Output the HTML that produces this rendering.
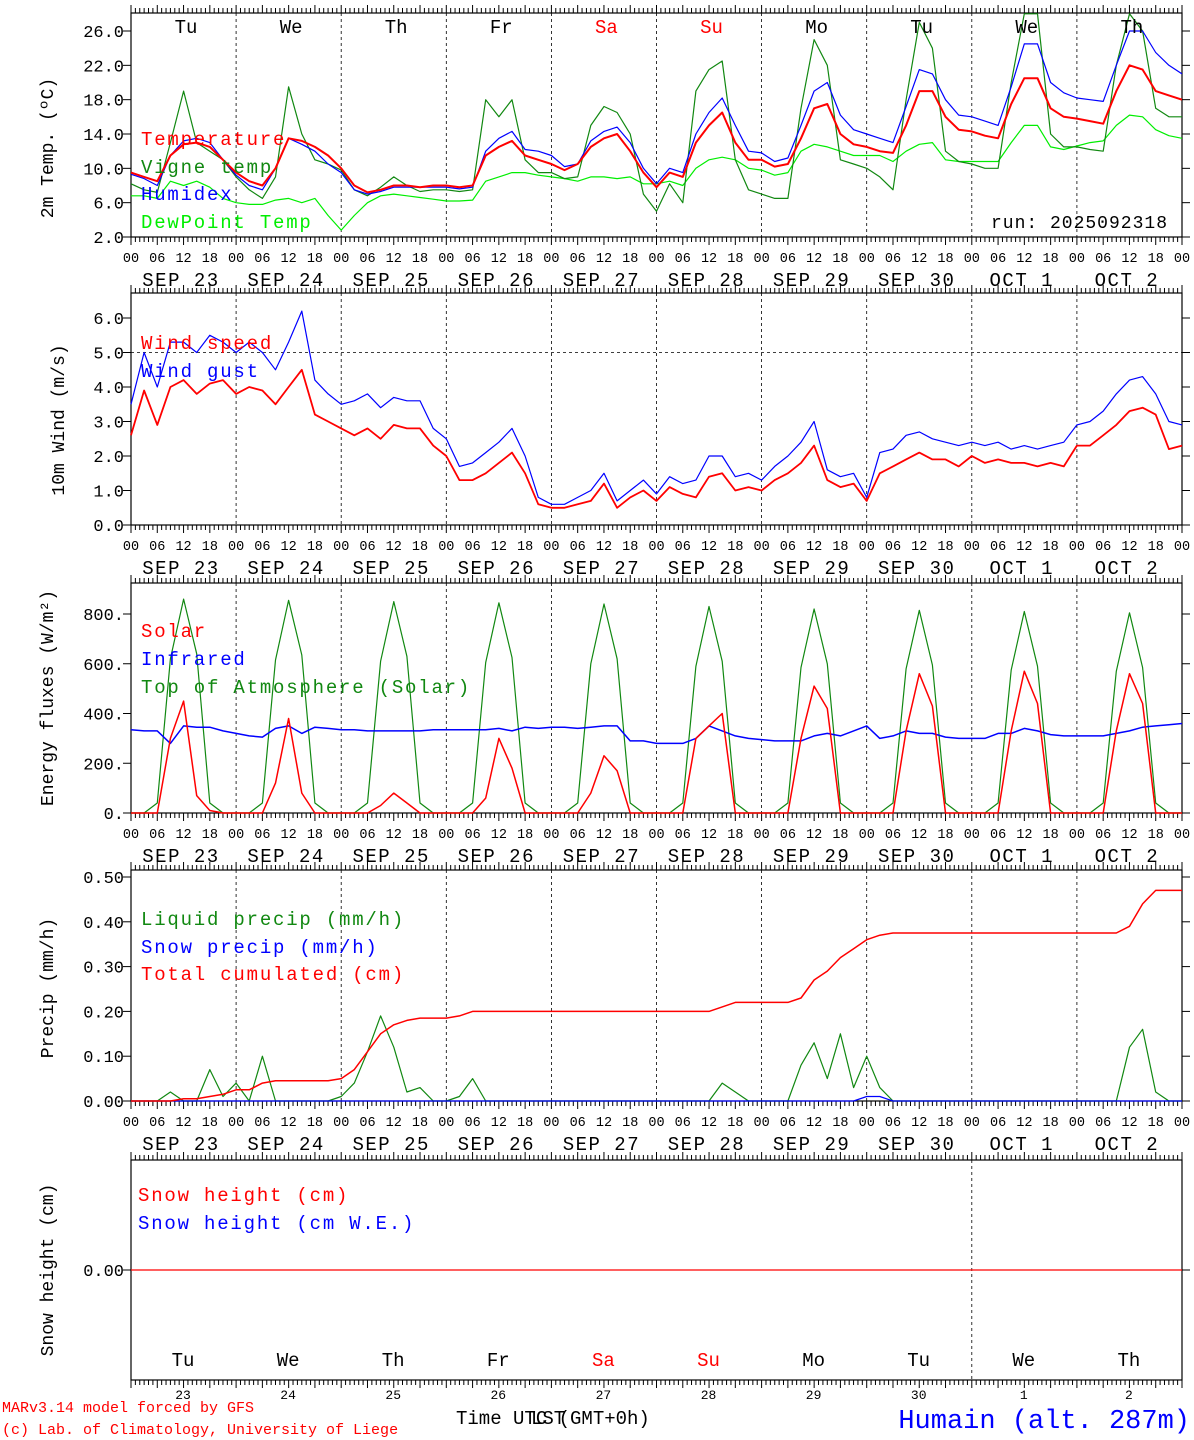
<!DOCTYPE html>
<html><head><meta charset="utf-8"><style>
body{margin:0;background:#fff}
svg{display:block}
text{font-family:"Liberation Mono","DejaVu Sans Mono",monospace}
</style></head><body>
<svg id="c" width="1194" height="1440" xmlns="http://www.w3.org/2000/svg"></svg>
<script>
const days=["Tu","We","Th","Fr","Sa","Su","Mo","Tu","We","Th"];
const dates=["SEP 23","SEP 24","SEP 25","SEP 26","SEP 27","SEP 28","SEP 29","SEP 30","OCT  1","OCT  2"];
const dayNums=["23","24","25","26","27","28","29","30","1","2"];
const hourTicks=["00","06","12","18"];
const temp=[9.5,9.0,8.5,11.5,12.8,13.0,12.5,11.0, 9.5,8.5,8.0,10,13.5,13.2,12.5,11.5, 10.0,8.0,7.2,7.5,8.0,8.0,7.8,8.0, 8.0,7.8,8.0,11.5,12.5,13.2,11.5,11.0, 10.5,9.8,10.5,12.5,13.5,14.0,12,9.5, 7.8,9.5,9.0,13,15,16.5,13,11.0, 11.0,10.2,10.5,13.5,17,17.5,14,12.8, 12.5,12.0,11.8,15,19,19,16,14.5, 14.3,13.8,13.5,17.5,20.5,20.5,17,16, 15.8,15.5,15.2,19,22,21.5,19,18.5,18.0];
const humidex=[9.3,8.8,8.0,11.5,13.2,13.5,13,11, 9.2,8.0,7.5,10,13.5,12.8,12,10.5, 9.5,7.5,7.0,7.3,7.8,7.8,7.8,7.8, 7.8,7.6,7.8,12,13.5,14.3,12.2,12, 11.5,10.2,10.5,13.2,14.3,14.8,13,10, 8.2,10,9.5,14,16.5,18.2,15,12, 11.8,10.8,11.2,15,19,20,16.2,14.5, 14,13.5,13,17.2,21.5,21,18,16.2, 16,15.5,15,19.5,24.5,24.5,20,18.8, 18.2,18,17.8,22,26,26,23.5,22,21];
const vigne=[8.2,7.5,7.2,13,19,13,12,11, 9,7.5,6.5,9,19.5,14,11,10.5, 9.8,7.5,6.8,7.8,9,8,7.3,7.5, 7.5,7.3,7.5,18,16,18,11,9.5, 9.5,8.8,9,15,17.2,16.5,14,7, 5,8.2,6,19,21.5,22.5,11,7.5, 7,6.5,6.5,17,25,22,11,10.5, 10,9,7.5,18,27,24,12,10.8, 10.5,10,10,20,28,28,14,12.5, 12.5,12.2,12,22,28,26,17,16,16];
const dewpoint=[6.8,6.8,6.5,8.5,8.0,8.5,7.8,6.5, 6.0,5.8,5.8,6.3,6.5,6.0,6.5,4.5, 2.8,4.5,6.0,6.8,7.0,6.8,6.6,6.4, 6.2,6.2,6.3,8.5,9.0,9.5,9.5,9.2, 9.0,8.8,8.5,9.0,9.0,8.8,9.0,8.2, 8.2,8.5,8.0,10,11,11.3,11,10, 9.8,9.2,9.5,12,12.8,12.5,12,11.5, 11.5,11.5,10.8,12,12.8,13,11,10.8, 10.8,10.8,10.8,13,15,15,12.5,12.2, 12.6,13,13.2,15,16.2,16,14.5,13.8,13.5];
const windSpeed=[2.6,3.9,2.9,4.0,4.2,3.8,4.1,4.2, 3.8,4.0,3.9,3.5,4.0,4.5,3.2,3.0, 2.8,2.6,2.8,2.5,2.9,2.8,2.8,2.3, 2.0,1.3,1.3,1.5,1.8,2.1,1.5,0.6, 0.5,0.5,0.6,0.7,1.2,0.5,0.8,1.0, 0.7,1.1,0.9,0.8,1.4,1.5,1.0,1.1, 1.0,1.3,1.5,1.8,2.3,1.3,1.1,1.2, 0.7,1.5,1.7,1.9,2.1,1.9,1.9,1.7, 2.0,1.8,1.9,1.8,1.8,1.7,1.8,1.7, 2.3,2.3,2.6,2.9,3.3,3.4,3.2,2.2,2.3];
const windGust=[3.5,5.0,4.0,5.3,5.3,5.0,5.5,5.3, 5.0,5.3,5.0,4.5,5.3,6.2,4.2,3.8, 3.5,3.6,3.8,3.4,3.7,3.6,3.6,2.8, 2.5,1.7,1.8,2.1,2.4,2.8,2.0,0.8, 0.6,0.6,0.8,1.0,1.5,0.7,1.0,1.3, 0.9,1.4,1.2,1.3,2.0,2.0,1.4,1.5, 1.3,1.7,2.0,2.4,3.0,1.6,1.4,1.5, 0.8,2.1,2.2,2.6,2.7,2.5,2.4,2.3, 2.4,2.3,2.4,2.2,2.3,2.2,2.3,2.4, 2.9,3.0,3.3,3.8,4.2,4.3,3.8,3.0,2.9];
const solar=[0,0,0,300,450,70,10,0, 0,0,0,120,380,80,0,0, 0,0,0,30,80,40,0,0, 0,0,0,60,300,180,0,0, 0,0,0,80,230,170,0,0, 0,0,0,300,350,400,0,0, 0,0,0,300,510,420,0,0, 0,0,0,330,560,430,0,0, 0,0,0,330,570,440,0,0, 0,0,0,330,560,440,0,0,0];
const infrared=[335,330,330,280,350,345,345,330, 320,310,305,340,350,320,345,340, 335,335,330,330,330,330,330,335, 335,335,335,335,340,330,345,340, 345,345,340,345,350,350,290,290, 280,280,280,300,350,330,310,300, 295,290,290,290,310,320,310,330, 350,300,310,330,320,320,305,300, 300,300,320,320,340,330,315,310, 310,310,310,320,330,345,350,355,360];
const toa=[0,0,40,620,860,640,40,0, 0,0,40,615,855,635,40,0, 0,0,40,610,850,630,40,0, 0,0,40,605,845,625,40,0, 0,0,40,600,840,620,40,0, 0,0,40,590,830,610,40,0, 0,0,40,585,820,600,40,0, 0,0,40,580,815,595,40,0, 0,0,40,575,810,590,40,0, 0,0,40,570,805,585,40,0,0];
const liquid=[0,0,0,0.02,0,0,0.07,0.01, 0.04,0,0.10,0,0,0,0,0, 0.01,0.04,0.11,0.19,0.12,0.02,0.03,0, 0,0.01,0.05,0,0,0,0,0, 0,0,0,0,0,0,0,0, 0,0,0,0,0,0.04,0.02,0, 0,0,0,0.08,0.13,0.05,0.15,0.03, 0.10,0.03,0,0,0,0,0,0, 0,0,0,0,0,0,0,0, 0,0,0,0,0.12,0.16,0.02,0,0];
const snowPrecip=[0,0,0,0,0,0,0,0, 0,0,0,0,0,0,0,0, 0,0,0,0,0,0,0,0, 0,0,0,0,0,0,0,0, 0,0,0,0,0,0,0,0, 0,0,0,0,0,0,0,0, 0,0,0,0,0,0,0,0, 0.01,0.01,0,0,0,0,0,0, 0,0,0,0,0,0,0,0, 0,0,0,0,0,0,0,0,0];
const cumul=[0,0,0,0,0.005,0.005,0.01,0.015, 0.025,0.025,0.04,0.045,0.045,0.045,0.045,0.045, 0.05,0.07,0.11,0.15,0.17,0.18,0.185,0.185, 0.185,0.19,0.2,0.2,0.2,0.2,0.2,0.2, 0.2,0.2,0.2,0.2,0.2,0.2,0.2,0.2, 0.2,0.2,0.2,0.2,0.2,0.21,0.22,0.22, 0.22,0.22,0.22,0.23,0.27,0.29,0.32,0.34, 0.36,0.37,0.375,0.375,0.375,0.375,0.375,0.375, 0.375,0.375,0.375,0.375,0.375,0.375,0.375,0.375, 0.375,0.375,0.375,0.375,0.39,0.44,0.47,0.47,0.47];
const snowHeight=new Array(81).fill(0);
const tempTicks=["2.0","6.0","10.0","14.0","18.0","22.0","26.0"];
const windTicks=["0.0","1.0","2.0","3.0","4.0","5.0","6.0"];
const energyTicks=["0.","200.","400.","600.","800."];
const precipTicks=["0.00","0.10","0.20","0.30","0.40","0.50"];

const NS="http://www.w3.org/2000/svg",S=document.getElementById('c');
const X0=131,X1=1182,DW=(X1-X0)/10;
function xh(h){return X0+h*(X1-X0)/240;}
function el(t,a,p){const e=document.createElementNS(NS,t);for(const k in a)e.setAttribute(k,a[k]);(p||S).appendChild(e);return e;}
function txt(x,y,s,sz,fill,anchor,extra){const e=el('text',Object.assign({x:x,y:y,'font-size':sz,fill:fill||'#000','text-anchor':anchor||'start'},extra||{}));e.textContent=s;return e;}
function panel(top,bot,name){
  const g=el('g',{});
  
  
  el('rect',{x:X0,y:top,width:X1-X0,height:bot-top,fill:'none',stroke:'#000','stroke-width':1.2},g);
  for(let h=0;h<=240;h++){const x=xh(h);const L=h%6==0?8:5;
    el('line',{x1:x,y1:top,x2:x,y2:top-L,stroke:'#000','stroke-width':1},g);
    el('line',{x1:x,y1:bot,x2:x,y2:bot+L,stroke:'#000','stroke-width':1},g);}
  return g;}
function vgrid(g,top,bot,only){for(let d=1;d<10;d++){if(only&&only.indexOf(d)<0)continue;el('line',{x1:X0+d*DW,y1:top,x2:X0+d*DW,y2:bot,stroke:'#000','stroke-width':0.8,'stroke-dasharray':'3,3'},g);}}
function ylabels(g,vals,labels,yf){vals.forEach((v,i)=>{const y=yf(v);
  el('line',{x1:X0-8,y1:y,x2:X0,y2:y,stroke:'#000'},g);el('line',{x1:X1,y1:y,x2:X1+8,y2:y,stroke:'#000'},g);
  const t=txt(X0-7,y+6,labels[i],17,'#000','end');
  
  });}
function xlabels(g,bot){for(let d=0;d<=10;d++){for(let k=0;k<4;k++){if(d==10&&k>0)break;txt(xh(d*24+k*6),bot+25,hourTicks[k],13.5,'#000','middle');}
    if(d<10){const t=txt(X0+d*DW+50,bot+49,dates[d],19,'#000','middle',{'letter-spacing':'1.5'});}}}
function series(g,arr,yf,color,w,name){const pts=arr.map((v,i)=>xh(i*3).toFixed(1)+','+yf(v).toFixed(1)).join(' ');
  const p=el('polyline',{points:pts,fill:'none',stroke:color,'stroke-width':w,'stroke-linejoin':'round'},g);
  
  }
function ytitle(x,y,s){const t=txt(x,y,s,18,'#000','middle',{transform:'rotate(-90 '+x+' '+y+')'});}
function legend(g,x,y,s,c){const t=txt(x,y,s,19,c,'start',{'letter-spacing':'1.8'});}

// Panel 1
{const top=13,bot=237,yf=v=>237-(v-2)*8.583;
 const g=panel(top,bot,'temperature-panel');vgrid(g,top,bot);
 ylabels(g,[2,6,10,14,18,22,26],tempTicks,yf);xlabels(g,bot);
 const cp=el('clipPath',{id:'cp1'});el('rect',{x:X0,y:top,width:X1-X0,height:bot-top},cp);
 const gg=el('g',{'clip-path':'url(#cp1)'},g);
 series(gg,dewpoint,yf,'#00ee00',1.2,'dewpoint-line');
 series(gg,vigne,yf,'#118811',1.2,'vigne-temp-line');
 series(gg,humidex,yf,'#0000ff',1.2,'humidex-line');
 series(gg,temp,yf,'#ff0000',2,'temperature-line');
 days.forEach((d,i)=>{const t=txt(X0+i*DW+55,33,d,19,(i==4||i==5)?'#ff0000':'#000','middle');});
 legend(g,141,145,'Temperature','#ff0000');legend(g,141,173,'Vigne temp','#118811');
 legend(g,141,200,'Humidex','#0000ff');legend(g,141,228,'DewPoint Temp','#00ee00');
 const r=txt(1168,228,'run: 2025092318',18,'#000','end',{'letter-spacing':'1'});
 ytitle(53,148,'2m Temp. (ºC)');}
// Panel 2
{const top=293,bot=525,yf=v=>525-v*34.5;
 const g=panel(top,bot,'wind-panel');vgrid(g,top,bot);
 el('line',{x1:X0,y1:yf(5),x2:X1,y2:yf(5),stroke:'#000','stroke-width':0.8,'stroke-dasharray':'3,3'},g);
 ylabels(g,[0,1,2,3,4,5,6],windTicks,yf);xlabels(g,bot);
 series(g,windGust,yf,'#0000ff',1.2,'wind-gust-line');
 series(g,windSpeed,yf,'#ff0000',1.8,'wind-speed-line');
 legend(g,141,349,'Wind speed','#ff0000');legend(g,141,377,'Wind gust','#0000ff');
 ytitle(64,420,'10m Wind (m/s)');}
// Panel 3
{const top=583,bot=813,yf=v=>813-v*0.24875;
 const g=panel(top,bot,'energy-panel');vgrid(g,top,bot);
 ylabels(g,[0,200,400,600,800],energyTicks,yf);xlabels(g,bot);
 series(g,toa,yf,'#118811',1.2,'toa-solar-line');
 series(g,infrared,yf,'#0000ff',1.5,'infrared-line');
 series(g,solar,yf,'#ff0000',1.5,'solar-line');
 legend(g,141,637,'Solar','#ff0000');legend(g,141,665,'Infrared','#0000ff');legend(g,141,693,'Top of Atmosphere (Solar)','#118811');
 ytitle(53,698,'Energy fluxes (W/m²)');}
// Panel 4
{const top=870,bot=1101,yf=v=>1101-v*448;
 const g=panel(top,bot,'precip-panel');vgrid(g,top,bot);
 ylabels(g,[0,0.1,0.2,0.3,0.4,0.5],precipTicks,yf);xlabels(g,bot);
 series(g,liquid,yf,'#118811',1.2,'liquid-precip-line');
 series(g,snowPrecip,yf,'#0000ff',1.2,'snow-precip-line');
 series(g,cumul,yf,'#ff0000',1.5,'cumulated-precip-line');
 legend(g,141,925,'Liquid precip (mm/h)','#118811');legend(g,141,953,'Snow precip (mm/h)','#0000ff');legend(g,141,980,'Total cumulated (cm)','#ff0000');
 ytitle(53,988,'Precip (mm/h)');}
// Panel 5
{const top=1160,bot=1380,yf=v=>1270-v*100;
 const g=panel(top,bot,'snow-panel');vgrid(g,top,bot,[8]);
 ylabels(g,[0],["0.00"],yf);
 series(g,snowHeight,yf,'#ff0000',1.2,'snow-height-line');
 days.forEach((d,i)=>{const t=txt(X0+i*DW+52,1366,d,19,(i==4||i==5)?'#ff0000':'#000','middle');
   txt(X0+i*DW+52,1399,dayNums[i],13,'#000','middle');});
 legend(g,138,1201,'Snow height (cm)','#ff0000');legend(g,138,1229,'Snow height (cm W.E.)','#0000ff');
 ytitle(53,1270,'Snow height (cm)');}
{const a=txt(2,1412,'MARv3.14 model forced by GFS',15,'#ff0000');
 const b=txt(2,1434,'(c) Lab. of Climatology, University of Liege',15,'#ff0000');
 const c=txt(456,1424,'Time UTC (GMT+0h)',19,'#000');
 txt(531,1424,'LST',19,'#000');
 const d=txt(1190,1428,'Humain (alt. 287m)',27,'#0000ff','end');}
</script>
</body></html>
